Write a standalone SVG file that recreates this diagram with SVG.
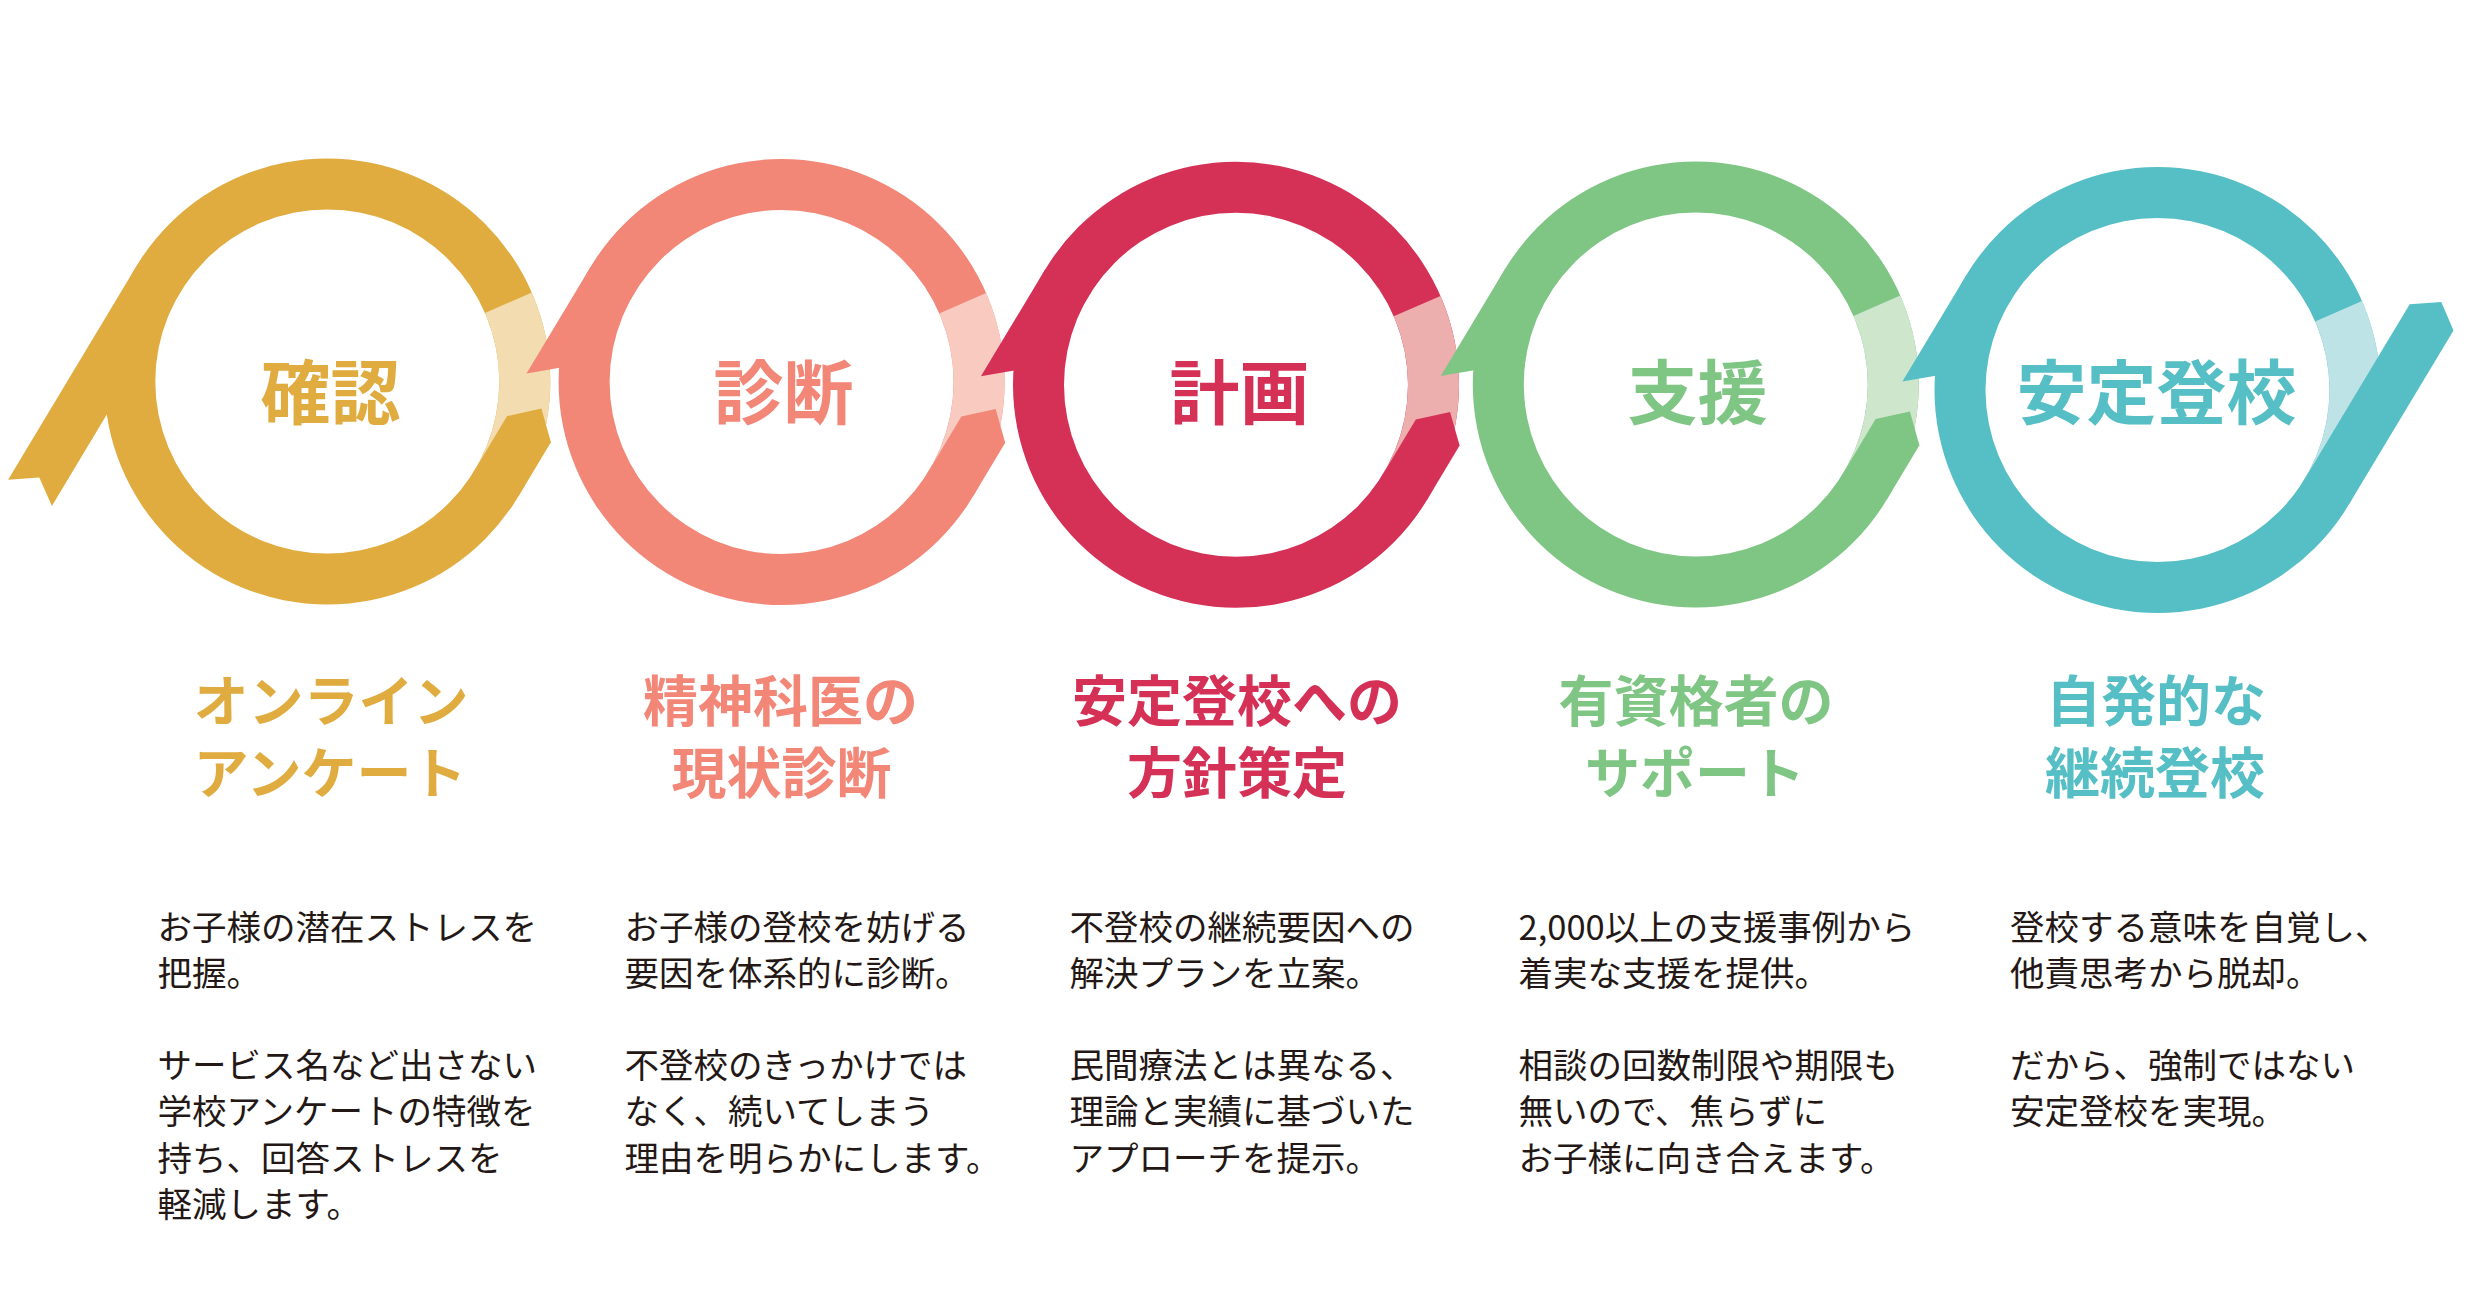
<svg xmlns="http://www.w3.org/2000/svg" width="2467" height="1300" viewBox="0 0 2467 1300">
<style>
.ttl{font-family:"Noto Sans CJK JP","Noto Sans CJK SC",sans-serif;font-weight:700;font-size:70px;text-anchor:middle}
.sub{font-family:"Noto Sans CJK JP","Noto Sans CJK SC",sans-serif;font-weight:700;font-size:55px;text-anchor:middle}
.body{font-family:"Noto Sans CJK JP","Noto Sans CJK SC",sans-serif;font-weight:400;font-size:34.5px;fill:#231815}
.y{fill:#E0AC40}.yl{fill:#F3DCAF}
.p{fill:#F28677}.pl{fill:#F9CBC0}
.r{fill:#D53157}.rl{fill:#EDAEAE}
.g{fill:#7FC685}.gl{fill:#CDE6CC}
.t{fill:#55BFC5}.tl{fill:#BEE3E6}
</style>
<defs>
<path id="ring" fill-rule="evenodd" d="M223 0A223 223 0 1 1 -223 0A223 223 0 1 1 223 0ZM172 0A172 172 0 1 0 -172 0A172 172 0 1 0 172 0Z"/>
<path id="light" d="M204.5 -88.9A223 223 0 0 1 191.2 114.8L147.4 88.6A172 172 0 0 0 157.7 -68.6Z"/>
<path id="exit" d="M126.8 122.9L191.2 114.8L223.6 60.8L214.1 27.1L179.8 34.6Z"/>
<path id="exitLong" d="M126.8 122.9L191.2 114.8L296 -59.6L283.8 -87.9L252.2 -85.8Z"/>
<path id="entry" d="M-191.2 -114.8L-126.8 -122.9L-211.3 17.7L-221.8 -14.3L-255.1 -8.5Z"/>
<path id="entryLong" d="M-191.2 -114.8L-126.8 -122.9L-275.4 124.4L-288 95.9L-319.2 98.2Z"/>
</defs>

<g id="node-kakunin">
<g transform="translate(327.3 381.5)" class="y">
<use href="#ring"/><use href="#light" class="yl"/><use href="#entryLong"/><use href="#exit"/>
</g>
<text class="ttl y" x="330.5" y="419">確認</text>
<text class="sub y" x="331" y="721">オンライン<tspan x="330" dy="72">アンケート</tspan></text>
<text class="body" x="157.5" y="939.5">お子様の潜在ストレスを<tspan x="157.5" dy="46.2">把握。</tspan><tspan x="157.5" dy="92.4">サービス名など出さない</tspan><tspan x="157.5" dy="46.2">学校アンケートの特徴を</tspan><tspan x="157.5" dy="46.2">持ち、回答ストレスを</tspan><tspan x="157.5" dy="46.2">軽減します。</tspan></text>
</g>

<g id="node-shindan">
<g transform="translate(781.6 382)" class="p">
<use href="#ring"/><use href="#light" class="pl"/><use href="#entry"/><use href="#exit"/>
</g>
<text class="ttl p" x="783.5" y="419">診断</text>
<text class="sub p" x="780.5" y="721">精神科医の<tspan x="781.5" dy="72">現状診断</tspan></text>
<text class="body" x="624.5" y="939.5">お子様の登校を妨げる<tspan x="624.5" dy="46.2">要因を体系的に診断。</tspan><tspan x="624.5" dy="92.4">不登校のきっかけでは</tspan><tspan x="624.5" dy="46.2">なく、続いてしまう</tspan><tspan x="624.5" dy="46.2">理由を明らかにします。</tspan></text>
</g>

<g id="node-keikaku">
<g transform="translate(1236 384.8)" class="r">
<use href="#ring"/><use href="#light" class="rl"/><use href="#entry"/><use href="#exit"/>
</g>
<text class="ttl r" x="1239.5" y="419">計画</text>
<text class="sub r" x="1237" y="721">安定登校への<tspan x="1237" dy="72">方針策定</tspan></text>
<text class="body" x="1069.5" y="939.5">不登校の継続要因への<tspan x="1069.5" dy="46.2">解決プランを立案。</tspan><tspan x="1069.5" dy="92.4">民間療法とは異なる、</tspan><tspan x="1069.5" dy="46.2">理論と実績に基づいた</tspan><tspan x="1069.5" dy="46.2">アプローチを提示。</tspan></text>
</g>

<g id="node-shien">
<g transform="translate(1695.8 384.5)" class="g">
<use href="#ring"/><use href="#light" class="gl"/><use href="#entry"/><use href="#exit"/>
</g>
<text class="ttl g" x="1697.5" y="419">支援</text>
<text class="sub g" x="1696" y="721">有資格者の<tspan x="1695" dy="72">サポート</tspan></text>
<text class="body" x="1518.5" y="939.5">2,000以上の支援事例から<tspan x="1518.5" dy="46.2">着実な支援を提供。</tspan><tspan x="1518.5" dy="92.4">相談の回数制限や期限も</tspan><tspan x="1518.5" dy="46.2">無いので、焦らずに</tspan><tspan x="1518.5" dy="46.2">お子様に向き合えます。</tspan></text>
</g>

<g id="node-anteitoukou">
<g transform="translate(2157.5 390)" class="t">
<use href="#ring"/><use href="#light" class="tl"/><use href="#entry"/><use href="#exitLong"/>
</g>
<text class="ttl t" x="2156.5" y="419">安定登校</text>
<text class="sub t" x="2156" y="721">自発的な<tspan x="2155" dy="72">継続登校</tspan></text>
<text class="body" x="2010" y="939.5">登校する意味を自覚し、<tspan x="2010" dy="46.2">他責思考から脱却。</tspan><tspan x="2010" dy="92.4">だから、強制ではない</tspan><tspan x="2010" dy="46.2">安定登校を実現。</tspan></text>
</g>
</svg>
